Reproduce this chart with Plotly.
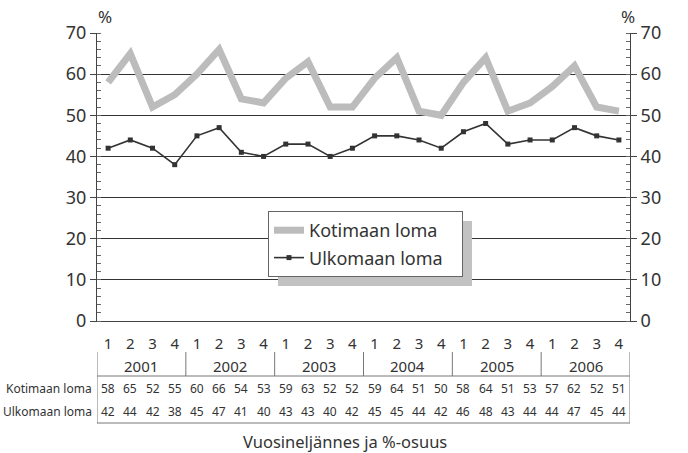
import plotly.graph_objects as go

years = ["2001", "2002", "2003", "2004", "2005", "2006"]
quarters = ["1", "2", "3", "4"]
kotimaan = [58, 65, 52, 55, 60, 66, 54, 53, 59, 63, 52, 52, 59, 64, 51, 50, 58, 64, 51, 53, 57, 62, 52, 51]
ulkomaan = [42, 44, 42, 38, 45, 47, 41, 40, 43, 43, 40, 42, 45, 45, 44, 42, 46, 48, 43, 44, 44, 47, 45, 44]
series_names = ["Kotimaan loma", "Ulkomaan loma"]
x_title = "Vuosineljännes ja %-osuus"

n = len(kotimaan)
xs = list(range(n))
qlabels = [quarters[i % 4] for i in xs]

FONT = "Noto Sans, Open Sans, sans-serif"
NARROW = "Noto Sans, sans-serif"
TXT = "#333333"
PAD = "\u00a0" * 3

fig = go.Figure()
fig.add_trace(go.Scatter(x=xs, y=kotimaan, name=series_names[0] + PAD, mode="lines",
                         legendgroup="a",
                         line=dict(color="#bcbcbc", width=7)))
fig.add_trace(go.Scatter(x=xs, y=ulkomaan, name=series_names[1] + PAD, mode="lines+markers",
                         legendgroup="b",
                         line=dict(color="#333333", width=1.6),
                         marker=dict(symbol="square", size=5, color="#333333")))
# invisible trace to activate right axis
fig.add_trace(go.Scatter(x=[xs[0]], y=[0], yaxis="y2", mode="markers",
                         marker=dict(opacity=0), showlegend=False, hoverinfo="skip"))

yax = dict(range=[0, 70], dtick=10, showline=True, linecolor="#444", linewidth=1,
           ticks="outside", ticklen=6, tickcolor="#444",
           minor=dict(ticks="inside", dtick=2, ticklen=4, tickcolor="#666", showgrid=False),
           tickfont=dict(family=FONT, size=18, color=TXT), zeroline=False)

fig.update_layout(
    width=688, height=453,
    margin=dict(l=97, r=58, t=33, b=132, autoexpand=False),
    paper_bgcolor="white", plot_bgcolor="white",
    xaxis=dict(range=[-0.5, n - 0.5], tickvals=xs, ticktext=qlabels, showgrid=False,
               showline=True, linecolor="#444", linewidth=1, ticks="", zeroline=False,
               ticklabelstandoff=9,
               tickfont=dict(family=FONT, size=15, color=TXT)),
    yaxis=dict(**yax, showgrid=True, gridcolor="#333", gridwidth=1, side="left"),
    yaxis2=dict(**yax, overlaying="y", side="right", showgrid=False),
    legend=dict(x=(268 - 97) / 533, y=(321 - 211) / 288, xanchor="left", yanchor="top",
                bgcolor="white", bordercolor="#666", borderwidth=1,
                font=dict(family=FONT, size=18, color=TXT),
                itemwidth=30, traceorder="grouped", tracegroupgap=1),
    showlegend=True,
)

def py(p):
    return (321 - p) / 288

shapes = []
# legend shadow
shapes.append(dict(type="rect", xref="paper", yref="paper",
                   x0=(278 - 97) / 533, x1=(472 - 97) / 533,
                   y0=py(286), y1=py(221),
                   fillcolor="#c2c2c2", line=dict(width=0), layer="above"))
# year separators
for k in range(len(years) + 1):
    xv = k * 4 - 0.5
    shapes.append(dict(type="line", xref="x", yref="paper", x0=xv, x1=xv,
                       y0=py(352), y1=py(376), line=dict(color="#777", width=1)))
# table box
shapes.append(dict(type="rect", xref="x", yref="paper", x0=-0.5, x1=n - 0.5,
                   y0=py(423), y1=py(376), line=dict(color="#777", width=1)))
fig.update_layout(shapes=shapes)

def note(text, x, y, xref="paper", xanchor="center", size=15, family=FONT):
    return dict(text=text, x=x, y=y, xref=xref, yref="paper", xanchor=xanchor,
                yanchor="middle", showarrow=False,
                font=dict(family=family, size=size, color=TXT))

ann = []
ann.append(note("%", (105 - 97) / 533, py(16), size=17))
ann.append(note("%", (628 - 97) / 533, py(16), size=17))
for k, yr in enumerate(years):
    ann.append(note(yr, k * 4 + 1.5, py(366), xref="x", size=15))
for row, (name, vals) in enumerate([(series_names[0], kotimaan), (series_names[1], ulkomaan)]):
    yy = py(388 + row * 23)
    ann.append(note(name, (94 - 97) / 533, yy, xanchor="right", size=12, family=NARROW))
    for i, v in enumerate(vals):
        ann.append(note(str(v), i, yy, xref="x", size=12, family=NARROW))
ann.append(note(x_title, (345 - 97) / 533, py(441), size=16.5))
fig.update_layout(annotations=ann)

fig.write_html("out.html", config={"displayModeBar": False},
               post_script="document.body.style.margin='0';")
